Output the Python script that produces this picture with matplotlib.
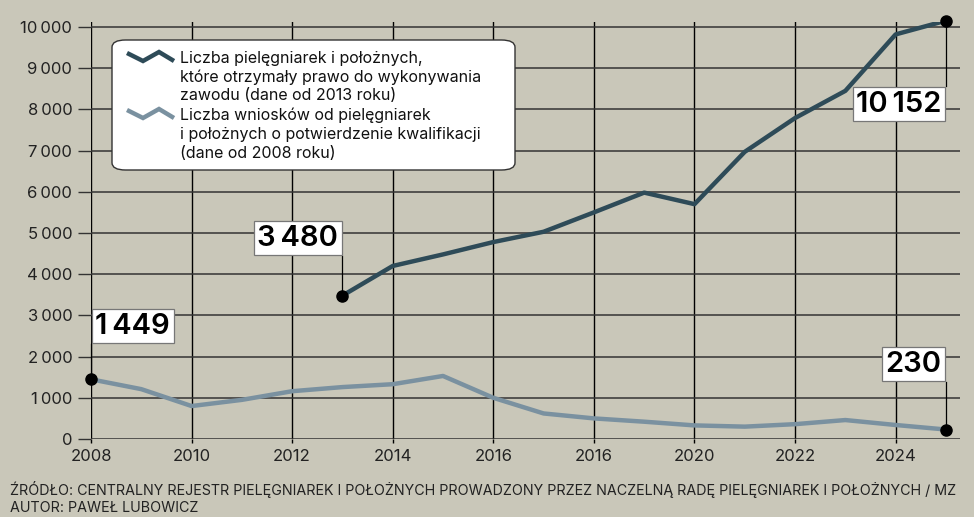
import matplotlib.pyplot as plt
from matplotlib.patches import FancyBboxPatch
from matplotlib.lines import Line2D
import matplotlib.ticker as mticker

# data
years_dark = [2013, 2014, 2015, 2016, 2017, 2018, 2019, 2020, 2021, 2022, 2023, 2024, 2025]
nurses_licensed = [3480, 4200, 4480, 4780, 5030, 5500, 5980, 5700, 6970, 7790, 8450, 9820, 10152]

years_light = list(range(2008, 2026))
applications = [1449, 1210, 800, 950, 1160, 1260, 1330, 1530, 1000, 620, 500, 420, 330, 300, 360, 460, 340, 230]

xticks = [2008, 2010, 2012, 2014, 2016, 2018, 2020, 2022, 2024]
xtick_labels = ["2008", "2010", "2012", "2014", "2016", "2016", "2020", "2022", "2024"]
yticks = list(range(0, 10001, 1000))

legend_lines = [
    "Liczba pielęgniarek i położnych,",
    "które otrzymały prawo do wykonywania",
    "zawodu (dane od 2013 roku)",
    "Liczba wniosków od pielęgniarek",
    "i położnych o potwierdzenie kwalifikacji",
    "(dane od 2008 roku)",
]

source_text = ("ŹRÓDŁO: CENTRALNY REJESTR PIELĘGNIAREK I POŁOŻNYCH PROWADZONY "
               "PRZEZ NACZELNĄ RADĘ PIELĘGNIAREK I POŁOŻNYCH / MZ")
author_text = "AUTOR: PAWEŁ LUBOWICZ"

BG = "#c9c7b9"
DARK = "#2e4b58"
LIGHT = "#7a91a0"
FONT = ["Inter", "DejaVu Sans"]

plt.rcParams['font.family'] = FONT

W, H = 974, 517
fig = plt.figure(figsize=(W / 100, H / 100), dpi=100, facecolor=BG)


def fx(px):
    return px / W


def fy(py):
    return 1 - py / H


ax = fig.add_axes([fx(91), fy(439), fx(960) - fx(91), fy(22) - fy(439)])
ax.set_facecolor(BG)
ax.set_xlim(2008, 2025.28)
ax.set_ylim(0, 10121)

for s in ax.spines.values():
    s.set_visible(False)

ax.set_yticks(yticks)
ax.yaxis.set_major_formatter(mticker.FuncFormatter(
    lambda v, p: f"{int(v):,}".replace(",", "\u2009")))
ax.set_xticks(xticks)
ax.set_xticklabels(xtick_labels)
ax.tick_params(axis='y', length=9.5, width=1, color="#333333", labelsize=12, pad=4)
ax.tick_params(axis='x', length=3, width=1, color="black", labelsize=12, pad=4)
for lab in ax.get_yticklabels() + ax.get_xticklabels():
    lab.set_color("#222222")

ax.grid(axis='y', color="#333333", linewidth=1.1)
ax.grid(axis='x', color="black", linewidth=1.0)
ax.set_axisbelow(True)

# series
ax.plot(years_light, applications, color=LIGHT, linewidth=3.2, solid_capstyle='butt', zorder=3)
ax.plot(years_dark, nurses_licensed, color=DARK, linewidth=3.2, solid_capstyle='butt', zorder=3)


def value_label(x, y, ylab, text, ha, va):
    ax.plot([x, x], [y, ylab], color="black", linewidth=0.9, zorder=4, clip_on=False)
    ax.plot([x], [y], "o", color="black", markersize=8, zorder=6, clip_on=False)
    pad = 3.2
    dx = -pad if ha == "right" else pad
    dy = pad if va == "bottom" else -pad
    ax.annotate(text, xy=(x, ylab), xytext=(dx, dy), textcoords="offset points",
                ha=ha, va=va, fontsize=21, fontweight="semibold", color="black",
                zorder=7, annotation_clip=False,
                bbox=dict(boxstyle="square,pad=0.12", facecolor="white",
                          edgecolor="#777777", linewidth=0.9))


value_label(years_light[0], applications[0], 2306, "1\u2009449", "left", "bottom")
value_label(years_dark[0], nurses_licensed[0], 4440, "3\u2009480", "right", "bottom")
value_label(years_dark[-1], nurses_licensed[-1], 8560, "10\u2009152", "right", "top")
value_label(years_light[-1], applications[-1], 1383, "230", "right", "bottom")

# legend box
box = FancyBboxPatch((fx(112), fy(170)), fx(515) - fx(112), fy(40) - fy(170),
                     boxstyle="round,pad=0,rounding_size=0.014",
                     transform=fig.transFigure, facecolor="white",
                     edgecolor="#333333", linewidth=1.0, zorder=10)
fig.add_artist(box)

icon = [(127, 53), (143, 61), (159, 52), (174, 61)]
for off, col in [(0, DARK), (57, LIGHT)]:
    fig.add_artist(Line2D([fx(p[0]) for p in icon], [fy(p[1] + off) for p in icon],
                          transform=fig.transFigure, color=col, linewidth=3.2,
                          solid_joinstyle='miter', solid_capstyle='butt', zorder=11))

line_y = [58, 77, 96, 115, 134, 153]
for t, py in zip(legend_lines, line_y):
    fig.text(fx(180), fy(py), t, fontsize=11.5, color="#111111",
             ha="left", va="center", zorder=12)

# footer, sized so the source line spans about the same width as the original
src = fig.text(fx(10), fy(490), source_text, fontsize=10, color="#222222",
               ha="left", va="center")
fig.canvas.draw()
w = src.get_window_extent().width
fs = min(10 * 950 / w, 11)
src.set_fontsize(fs)
fig.text(fx(10), fy(508), author_text, fontsize=fs, color="#222222",
         ha="left", va="center")

fig.savefig("out.png", dpi=100, facecolor=BG)
